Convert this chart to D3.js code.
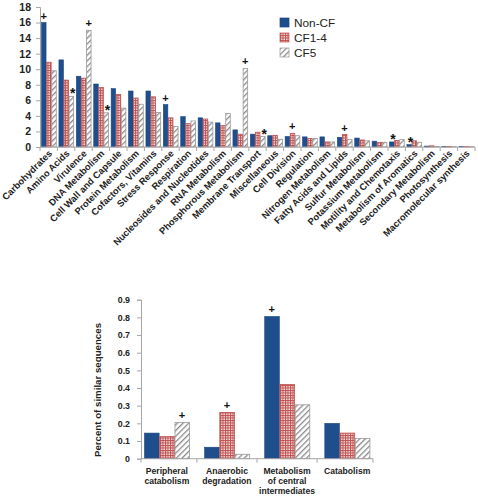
<!DOCTYPE html>
<html><head><meta charset="utf-8">
<script src="https://cdn.jsdelivr.net/npm/d3@7"></script>
<style>
body{margin:0;background:#fff;}
svg{display:block;font-family:"Liberation Sans",Arial,sans-serif;}
</style></head>
<body><svg id="c" width="478" height="497"></svg>
<script>
const categories = ["Carbohydrates","Amino Acids","Virulence","DNA Metabolism","Cell Wall and Capsule","Protein  Metabolism","Cofactors, Vitamins","Stress Response","Respiration","Nucleosides and Nucleotides","RNA  Metabolism","Phosphorous Metabolism","Membrane Transport","Miscellaneous","Cell Division","Regulation","Nitrogen Metabolism","Fatty Acids and Lipids","Sulfur  Metabolism","Potassium Metabolism","Motility and Chemotaxis","Metabolism of Aromatics","Secondary Metabolism","Photosynthesis","Macromolecular synthesis"];
const nonCF = [16.0,11.2,9.1,8.1,7.5,7.2,7.2,5.45,3.9,3.75,3.1,2.2,1.65,1.45,1.35,1.3,1.3,1.25,1.15,0.75,0.65,0.3,0.12,0.08,0.05];
const cf14  = [10.9,8.6,8.85,7.65,6.75,6.3,6.45,3.75,3.0,3.6,2.75,1.65,1.9,1.5,1.75,1.1,0.65,1.6,0.9,0.6,0.85,0.8,0.15,0.08,0.05];
const cf5   = [9.8,6.5,15.0,4.4,5.0,5.5,4.45,2.65,3.35,3.2,4.3,10.1,1.35,1.0,1.45,1.1,0.65,0.95,0.8,0.6,0.95,0.6,0.08,0.04,0.04];
const topMarks = [{c:0,s:0,m:"+"},{c:1,s:2,m:"*"},{c:2,s:2,m:"+"},{c:3,s:2,m:"*"},{c:7,s:0,m:"+"},{c:11,s:2,m:"+"},{c:12,s:2,m:"*"},{c:14,s:1,m:"+"},{c:17,s:1,m:"+"},{c:20,s:0,m:"*"},{c:21,s:0,m:"*"}];
const yTicksTop = [0,2,4,6,8,10,12,14,16,18];

const pathways = ["Peripheral|catabolism","Anaerobic|degradation","Metabolism|of central|intermediates","Catabolism"];
const pNonCF = [0.145,0.065,0.805,0.2];
const pCF14  = [0.125,0.262,0.42,0.145];
const pCF5   = [0.205,0.025,0.305,0.115];
const bottomMarks = [{c:0,s:2,m:"+"},{c:1,s:1,m:"+"},{c:2,s:0,m:"+"}];
const yTicksBottom = [0,0.1,0.2,0.3,0.4,0.5,0.6,0.7,0.8,0.9];
const seriesNames = ["Non-CF","CF1-4","CF5"];

const svg = d3.select("#c");
const defs = svg.append("defs");
const pc = defs.append("pattern").attr("id","check").attr("patternUnits","userSpaceOnUse").attr("width",2.5).attr("height",2.5);
pc.append("rect").attr("width",2.5).attr("height",2.5).attr("fill","#f4e4e4");
pc.append("rect").attr("width",2.5).attr("height",1).attr("fill","#c0504d");
pc.append("rect").attr("width",1).attr("height",2.5).attr("fill","#c0504d");
const ph = defs.append("pattern").attr("id","hatch").attr("patternUnits","userSpaceOnUse").attr("width",4).attr("height",4).attr("patternTransform","rotate(45)");
ph.append("rect").attr("width",4).attr("height",4).attr("fill","#fff");
ph.append("rect").attr("width",1.3).attr("height",4).attr("fill","#8a8a8a");

const fills = ["#1f4e8c","url(#check)","url(#hatch)"];
const strokes = ["#1a4580","#c0504d","#999"];
const axisCol = "#a6a6a6";

function drawChart(o){
  const g = svg.append("g");
  const x = d3.scaleBand().domain(d3.range(o.cats.length)).range([o.x0,o.x1]).paddingInner(o.pi).paddingOuter(o.po);
  const xs = d3.scaleBand().domain([0,1,2]).range([0,x.bandwidth()]);
  const y = d3.scaleLinear().domain([0,o.ymax]).range([o.y0,o.y1]);
  o.series.forEach((s,si)=>{
    g.selectAll(null).data(s).enter().append("rect")
      .attr("x",(d,i)=>x(i)+xs(si)+0.5)
      .attr("y",d=>y(d))
      .attr("width",xs.bandwidth()-0.6)
      .attr("height",d=>o.y0-y(d))
      .attr("fill",fills[si]).attr("stroke",strokes[si]).attr("stroke-width",si===0?0.6:0.8);
  });
  const ya = d3.axisLeft(y).tickValues(o.yt).tickSize(4).tickFormat(o.fmt);
  const yg = g.append("g").attr("transform",`translate(${o.x0},0)`).call(ya);
  yg.select(".domain").attr("stroke",axisCol);
  yg.selectAll(".tick line").attr("stroke",axisCol);
  yg.selectAll("text").attr("font-size",o.fs).attr("font-weight","bold").attr("fill","#222").attr("dx",o.ydx);
  g.append("line").attr("x1",o.x0).attr("x2",o.x1).attr("y1",o.y0).attr("y2",o.y0).attr("stroke",axisCol);
  const step = x.step();
  const seps = d3.range(o.cats.length+1).map(i=> i===0? o.x0 : (i===o.cats.length? o.x1 : x(i)-step*o.pi/2));
  g.selectAll(null).data(seps).enter().append("line")
    .attr("x1",d=>d).attr("x2",d=>d).attr("y1",o.y0).attr("y2",o.y0+4).attr("stroke",axisCol);
  g.selectAll(null).data(o.marks).enter().append("text")
    .attr("x",d=>x(d.c)+xs(d.s)+xs.bandwidth()/2 + (d.m==="*"?1.5:0))
    .attr("y",d=>y(o.series[d.s][d.c]) - 3 + (d.m==="*"?5:0))
    .attr("text-anchor","middle").attr("font-size",d=>d.m==="*"?14:11).attr("font-weight","bold").attr("fill","#111")
    .text(d=>d.m);
  return {x,y,g};
}

// TOP chart
const t = drawChart({cats:categories,series:[nonCF,cf14,cf5],x0:40,x1:475,y0:147,y1:7,ymax:18,pi:0.12,po:0.06,yt:yTicksTop,fmt:d3.format("d"),fs:10.5,marks:topMarks,ydx:-2});
t.g.selectAll(null).data(categories).enter().append("text")
  .attr("transform",(d,i)=>`translate(${t.x(i)+t.x.bandwidth()/2+4},${154}) rotate(-45)`)
  .attr("text-anchor","end").attr("font-size",9.4).attr("font-weight","bold").attr("fill","#222")
  .text(d=>d);

// legend
const lg = svg.append("g");
seriesNames.forEach((n,i)=>{
  lg.append("rect").attr("x",280).attr("y",18+i*15).attr("width",9).attr("height",9).attr("fill",fills[i]).attr("stroke",strokes[i]).attr("stroke-width",0.7);
  lg.append("text").attr("x",294).attr("y",26.5+i*15).attr("font-size",11.8).attr("fill","#222").text(n);
});

// BOTTOM chart
const b = drawChart({cats:pathways,series:[pNonCF,pCF14,pCF5],x0:141,x1:373,y0:458.7,y1:299.7,ymax:0.9,pi:0.24,po:0.05,yt:yTicksBottom,fmt:d=>d===0?"0":d3.format(".1f")(d),fs:8.8,marks:bottomMarks,ydx:-4});
pathways.forEach((p,i)=>{
  const lines = p.split("|");
  const tx = b.g.append("text").attr("text-anchor","middle").attr("font-size",8.6).attr("font-weight","bold").attr("fill","#222");
  lines.forEach((l,j)=>{
    tx.append("tspan").attr("x",b.x(i)+b.x.bandwidth()/2).attr("y",474+j*10).text(l);
  });
});
svg.append("text").attr("transform","translate(101,390) rotate(-90)").attr("text-anchor","middle")
  .attr("font-size",9.7).attr("font-weight","bold").attr("fill","#222").text("Percent of similar sequences");
</script></body></html>
